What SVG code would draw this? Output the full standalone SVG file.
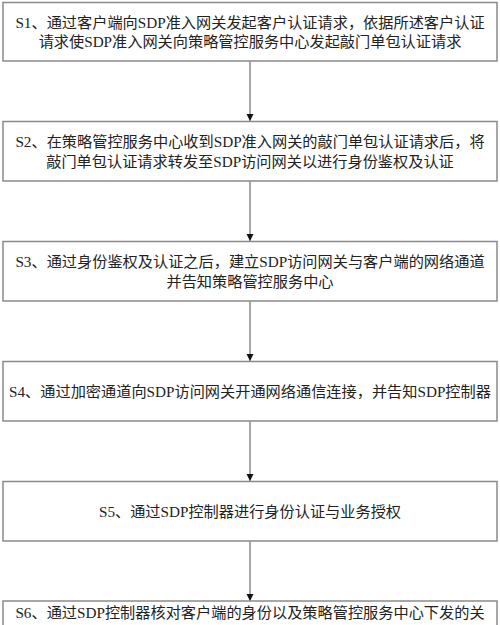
<svg xmlns="http://www.w3.org/2000/svg" width="500" height="625" viewBox="0 0 500 625">
<defs>
<style>
.box{fill:#ffffff;stroke:#8a8a8a;stroke-width:1.5}
.t{font-family:"Liberation Serif","Noto Sans CJK SC",serif;font-size:15.2px;fill:#222;text-anchor:middle}
.c{stroke:#7a7a7a;stroke-width:1.3;fill:none}
</style>
<marker id="ah" markerUnits="userSpaceOnUse" markerWidth="8" markerHeight="8" refX="7" refY="4" orient="auto">
<path d="M0,0.5 L7,4 L0,7.5 Z" fill="#111"/>
</marker>
</defs>
<rect width="500" height="625" fill="#ffffff"/>
<g id="connectors">
<line class="c" x1="250" y1="61" x2="250" y2="121" marker-end="url(#ah)"/>
<line class="c" x1="250" y1="181" x2="250" y2="241" marker-end="url(#ah)"/>
<line class="c" x1="250" y1="301" x2="250" y2="361" marker-end="url(#ah)"/>
<line class="c" x1="250" y1="421" x2="250" y2="481" marker-end="url(#ah)"/>
<line class="c" x1="250" y1="541" x2="250" y2="601" marker-end="url(#ah)"/>
</g>
<g id="s1">
<rect class="box" x="3" y="2.5" width="494" height="58.5"/>
<text class="t" x="250" y="28.2">S1、通过客户端向SDP准入网关发起客户认证请求，依据所述客户认证</text>
<text class="t" x="250" y="47.2">请求使SDP准入网关向策略管控服务中心发起敲门单包认证请求</text>
</g>
<g id="s2">
<rect class="box" x="3" y="121.5" width="494" height="59.5"/>
<text class="t" x="250" y="147.2">S2、在策略管控服务中心收到SDP准入网关的敲门单包认证请求后，将</text>
<text class="t" x="250" y="167.2">敲门单包认证请求转发至SDP访问网关以进行身份鉴权及认证</text>
</g>
<g id="s3">
<rect class="box" x="3" y="241.5" width="494" height="59.5"/>
<text class="t" x="250" y="267.2">S3、通过身份鉴权及认证之后，建立SDP访问网关与客户端的网络通道</text>
<text class="t" x="250" y="287.2">并告知策略管控服务中心</text>
</g>
<g id="s4">
<rect class="box" x="3" y="361.5" width="494" height="59.5"/>
<text class="t" x="250" y="397.2">S4、通过加密通道向SDP访问网关开通网络通信连接，并告知SDP控制器</text>
</g>
<g id="s5">
<rect class="box" x="3" y="481.5" width="494" height="59.5"/>
<text class="t" x="250" y="517.2">S5、通过SDP控制器进行身份认证与业务授权</text>
</g>
<g id="s6">
<rect class="box" x="3" y="601" width="494" height="60"/>
<text class="t" x="250" y="617.5">S6、通过SDP控制器核对客户端的身份以及策略管控服务中心下发的关</text>
</g>
</svg>
